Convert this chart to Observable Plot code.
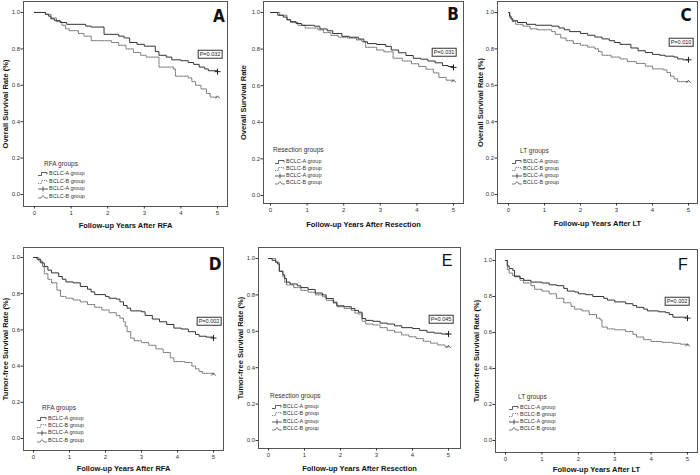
<!DOCTYPE html>
<html><head><meta charset="utf-8">
<script src="https://cdn.jsdelivr.net/npm/d3@7"></script>
<script src="https://cdn.jsdelivr.net/npm/@observablehq/plot@0.6"></script>
<style>
body{margin:0;background:#fff;}
#root{position:relative;width:700px;height:475px;overflow:hidden;font-family:"Liberation Sans",Arial,sans-serif;background:#fff;}
.panel{position:absolute;}
.panel svg{overflow:visible;}
g[aria-label="x-axis label"] text, g[aria-label="y-axis label"] text{font-size:7.5px;font-weight:bold;fill:#111;}
g[aria-label="x-axis tick label"] text, g[aria-label="y-axis tick label"] text{font-size:6px;fill:#333;}
.ov{position:absolute;white-space:nowrap;line-height:1;color:#222;transform:translateY(-50%);}
.pbox{border:1px solid #333;font-size:5.5px;padding:0.5px 1px;transform:translate(-50%,-50%);}
.lt{font-size:6.5px;color:#333;}
.lr{font-size:5.5px;color:#333;display:flex;align-items:center;}
.lr svg{margin-right:1px;}
.letter{position:absolute;transform:translate(-50%,-50%);line-height:1;color:#111;}
.letter.cond{font-family:"Liberation Sans Narrow","DejaVu Sans Condensed",sans-serif;font-weight:bold;font-size:17px;}
.letter.reg{font-family:"Liberation Sans",Arial,sans-serif;font-size:16px;}
</style>
</head><body><div id="root"></div>
<script>
// ---------- data ----------
const groupNames = ["BCLC-A group", "BCLC-B group"];
const xTicks = [0, 1, 2, 3, 4, 5];
const yTicks = [0, 0.2, 0.4, 0.6, 0.8, 1.0];
const panelLetters = ["A", "B", "C", "D", "E", "F"];
const pValues = ["P=0.032", "P=0.031", "P=0.010", "P=0.002", "P=0.045", "P=0.002"];
const xLabels = ["Follow-up Years After RFA", "Follow-up Years After Resection", "Follow-up Years After LT",
                 "Follow-up Years After RFA", "Follow-up Years After Resection", "Follow-up Years After LT"];
const yLabels = ["Overall Survival Rate (%)", "Overall Survival Rate", "Overall Survival Rate (%)",
                 "Tumor-free Survival Rate (%)", "Tumor-free Survival Rate (%)", "Tumor-free Survival Rate (%)"];
const legendTitles = ["RFA groups", "Resection groups", "LT groups", "RFA groups", "Resection groups", "LT groups"];

// [years, survival] step points
const osRFA_A = [[0,1],[0.3,0.99],[0.38,0.98],[0.45,0.965],[0.55,0.955],[0.7,0.945],[0.88,0.935],[1.4,0.925],[1.55,0.92],[1.9,0.88],[2.3,0.87],[2.45,0.86],[2.6,0.835],[2.8,0.825],[3.0,0.815],[3.3,0.785],[3.4,0.765],[3.6,0.755],[3.75,0.74],[4.0,0.735],[4.2,0.725],[4.35,0.715],[4.5,0.7],[4.65,0.69],[4.75,0.68],[5,0.675]];
const osRFA_B = [[0,1],[0.3,0.99],[0.45,0.97],[0.6,0.95],[0.75,0.93],[0.85,0.91],[0.95,0.9],[1.2,0.885],[1.35,0.87],[1.55,0.845],[2.1,0.835],[2.3,0.82],[2.5,0.8],[2.7,0.78],[2.9,0.765],[3.05,0.755],[3.4,0.7],[3.8,0.69],[3.85,0.65],[4.2,0.64],[4.3,0.62],[4.4,0.6],[4.55,0.58],[4.7,0.555],[4.8,0.535],[5,0.535]];
const osRes_A = [[0,1],[0.2,0.985],[0.35,0.975],[0.45,0.96],[0.55,0.95],[0.7,0.94],[0.85,0.93],[1.2,0.925],[1.35,0.91],[1.55,0.9],[1.7,0.885],[1.95,0.87],[2.15,0.865],[2.4,0.855],[2.55,0.84],[2.65,0.83],[2.9,0.825],[3.15,0.815],[3.3,0.795],[3.5,0.78],[3.7,0.765],[3.9,0.75],[4.1,0.745],[4.3,0.735],[4.5,0.725],[4.7,0.71],[4.85,0.705],[5,0.7]];
const osRes_B = [[0,1],[0.25,0.985],[0.45,0.96],[0.55,0.945],[0.75,0.93],[0.95,0.915],[1.3,0.905],[1.45,0.89],[1.65,0.875],[1.85,0.865],[2.1,0.86],[2.35,0.85],[2.5,0.84],[2.6,0.81],[2.9,0.795],[3.1,0.785],[3.35,0.75],[3.6,0.735],[3.85,0.72],[4.05,0.705],[4.25,0.69],[4.45,0.67],[4.6,0.645],[4.8,0.63],[5,0.625]];
const osLT_A = [[0,1],[0.03,0.98],[0.07,0.965],[0.12,0.955],[0.25,0.945],[0.5,0.935],[0.75,0.93],[1.2,0.925],[1.4,0.915],[1.55,0.905],[1.7,0.895],[2.0,0.885],[2.2,0.875],[2.4,0.865],[2.6,0.855],[2.8,0.845],[2.95,0.835],[3.1,0.825],[3.4,0.805],[3.6,0.79],[3.8,0.78],[4.0,0.77],[4.2,0.765],[4.35,0.76],[4.6,0.755],[4.7,0.745],[4.85,0.74],[5,0.74]];
const osLT_B = [[0,1],[0.04,0.97],[0.1,0.95],[0.2,0.935],[0.4,0.925],[0.6,0.91],[0.8,0.905],[1.2,0.895],[1.3,0.88],[1.45,0.86],[1.6,0.845],[1.8,0.83],[2.0,0.82],[2.2,0.81],[2.4,0.8],[2.5,0.785],[2.6,0.765],[2.85,0.755],[3.1,0.745],[3.3,0.73],[3.55,0.72],[3.8,0.705],[4.0,0.69],[4.3,0.685],[4.4,0.67],[4.5,0.65],[4.6,0.635],[4.7,0.62],[5,0.62]];
const tfRFA_A = [[0,1],[0.1,0.99],[0.2,0.97],[0.3,0.95],[0.4,0.93],[0.5,0.915],[0.7,0.895],[0.8,0.88],[0.9,0.865],[1.1,0.86],[1.3,0.84],[1.5,0.825],[1.6,0.81],[1.7,0.795],[2.0,0.785],[2.1,0.775],[2.3,0.77],[2.4,0.755],[2.5,0.735],[2.6,0.72],[2.7,0.705],[3.0,0.7],[3.1,0.68],[3.3,0.66],[3.5,0.645],[3.7,0.63],[3.9,0.61],[4.1,0.605],[4.3,0.59],[4.5,0.575],[4.6,0.565],[4.8,0.56],[5,0.555]];
const tfRFA_B = [[0,1],[0.15,0.98],[0.25,0.95],[0.3,0.91],[0.4,0.88],[0.5,0.86],[0.65,0.82],[0.75,0.785],[0.9,0.775],[1.1,0.765],[1.3,0.755],[1.5,0.74],[1.7,0.725],[1.9,0.71],[2.1,0.695],[2.3,0.68],[2.4,0.665],[2.5,0.645],[2.55,0.62],[2.6,0.59],[2.7,0.555],[2.8,0.54],[3.0,0.53],[3.2,0.515],[3.4,0.495],[3.6,0.475],[3.8,0.445],[3.9,0.425],[4.2,0.42],[4.4,0.4],[4.5,0.385],[4.6,0.37],[4.7,0.36],[5,0.355]];
const tfRes_A = [[0,1],[0.1,0.99],[0.2,0.98],[0.25,0.97],[0.3,0.93],[0.4,0.91],[0.45,0.89],[0.5,0.87],[0.6,0.86],[0.8,0.85],[0.9,0.84],[1.1,0.83],[1.3,0.81],[1.5,0.8],[1.6,0.78],[1.8,0.76],[1.9,0.74],[2.1,0.735],[2.3,0.725],[2.4,0.715],[2.5,0.705],[2.6,0.67],[2.7,0.66],[2.9,0.655],[3.1,0.645],[3.3,0.64],[3.5,0.63],[3.7,0.62],[4.0,0.615],[4.2,0.605],[4.4,0.595],[4.6,0.59],[4.8,0.585],[5,0.585]];
const tfRes_B = [[0,1],[0.2,0.98],[0.3,0.93],[0.4,0.9],[0.45,0.87],[0.5,0.855],[0.7,0.84],[0.9,0.825],[1.1,0.815],[1.3,0.8],[1.5,0.79],[1.6,0.77],[1.8,0.755],[1.9,0.735],[2.1,0.725],[2.3,0.715],[2.4,0.7],[2.5,0.695],[2.6,0.655],[2.7,0.64],[2.9,0.635],[3.1,0.62],[3.3,0.605],[3.5,0.595],[3.7,0.58],[3.9,0.57],[4.1,0.56],[4.3,0.545],[4.5,0.535],[4.7,0.525],[4.9,0.515],[5,0.515]];
const tfLT_A = [[0,1],[0.05,0.97],[0.1,0.955],[0.2,0.945],[0.25,0.91],[0.4,0.9],[0.5,0.89],[0.7,0.88],[1.0,0.875],[1.2,0.865],[1.4,0.86],[1.6,0.845],[1.7,0.83],[1.9,0.825],[2.0,0.815],[2.2,0.81],[2.4,0.8],[2.7,0.79],[2.8,0.78],[3.0,0.77],[3.3,0.76],[3.5,0.75],[3.6,0.74],[3.8,0.73],[3.9,0.72],[4.2,0.715],[4.4,0.71],[4.5,0.7],[4.6,0.685],[5,0.68]];
const tfLT_B = [[0,1],[0.05,0.95],[0.1,0.93],[0.2,0.915],[0.4,0.89],[0.5,0.875],[0.7,0.86],[0.8,0.84],[1.0,0.83],[1.2,0.815],[1.4,0.79],[1.6,0.765],[1.8,0.745],[1.9,0.73],[2.1,0.72],[2.3,0.7],[2.5,0.68],[2.6,0.67],[2.65,0.63],[2.8,0.62],[3.0,0.615],[3.3,0.605],[3.5,0.59],[3.6,0.575],[3.8,0.56],[4.0,0.55],[4.3,0.545],[4.6,0.54],[4.8,0.535],[5,0.53]];

const seriesA = [osRFA_A, osRes_A, osLT_A, tfRFA_A, tfRes_A, tfLT_A];
const seriesB = [osRFA_B, osRes_B, osLT_B, tfRFA_B, tfRes_B, tfLT_B];

// ---------- layout (pixels) ----------
const layout = [
  {frame:[23,1,227,206], x0:34, x5:217, y1:12, y0:194, xlo:21, ylo:21, p:[210,54], L:[219,16], leg:{tx:44, ty:164, gx:38, rows:[174,182,189,197]}},
  {frame:[263,1,463,203], x0:270, x5:453, y1:12, y0:195, xlo:23, ylo:23, p:[444,52], L:[453,14], leg:{tx:273, ty:150, gx:275, rows:[162,169,176,183]}},
  {frame:[497,1,697,203], x0:508, x5:688, y1:12, y0:194, xlo:22, ylo:20, p:[681,42], L:[686,15], leg:{tx:520, ty:151, gx:512, rows:[162,169,176,183]}},
  {frame:[23,247,223,450], x0:33, x5:213, y1:257, y0:438, xlo:20, ylo:21, p:[209,321], L:[215,264], leg:{tx:42, ty:408, gx:37, rows:[419,426,433,441]}},
  {frame:[258,247,460,448], x0:268, x5:448, y1:258, y0:440, xlo:22, ylo:21, p:[441,319], L:[447,261], leg:{tx:270, ty:396, gx:272, rows:[407,414,422,429]}},
  {frame:[495,249,697,452], x0:505, x5:687, y1:260, y0:440, xlo:19, ylo:22, p:[677,301], L:[683,265], leg:{tx:518, ty:397, gx:509, rows:[408,415,422,429]}}
];

const root = document.getElementById("root");

const wedge = {
  draw(context, size) {
    const r = Math.sqrt(size / Math.PI);
    context.moveTo(-r, r * 0.6);
    context.lineTo(0, -r * 0.6);
    context.lineTo(r, r * 0.6);
  }
};

const glyphs = [
  '<path d="M0,4.5H3.5V1.5H9V3.5" stroke="#333" fill="none" stroke-width="0.8"/>',
  '<path d="M0,4.5H3.5V1.5H9V3.5" stroke="#666" fill="none" stroke-width="0.8" stroke-dasharray="1,0.8"/>',
  '<path d="M0,3H10M5,0.5V5.5" stroke="#333" fill="none" stroke-width="0.8"/>',
  '<path d="M0,4H3L5,1.5L7,4H10" stroke="#555" fill="none" stroke-width="0.8"/>'
];

layout.forEach((lay, i) => {
  const mL = 26, mR = 3, mT = 1, mB = 32;
  const [L, T, R, B] = lay.frame;
  const kx = (lay.x5 - lay.x0) / 5, ky = (lay.y0 - lay.y1);
  const xd = [-(lay.x0 - L) / kx, 5 + (R - lay.x5) / kx];
  const yd = [-(B - lay.y0) / ky, 1 + (lay.y1 - T) / ky];
  const a = seriesA[i], b = seriesB[i];
  const chart = Plot.plot({
    width: R - L + mL + mR,
    height: B - T + mT + mB,
    marginLeft: mL, marginRight: mR, marginTop: mT, marginBottom: mB,
    style: {fontFamily: "Liberation Sans, Arial, sans-serif", background: "transparent", color: "#333"},
    x: {domain: xd},
    y: {domain: yd},
    marks: [
      Plot.frame({stroke: "#555", strokeWidth: 1}),
      Plot.axisX({ticks: xTicks, tickSize: 2.5, tickPadding: 1.5, tickFormat: d => String(d),
                  label: xLabels[i], labelAnchor: "center", labelOffset: lay.xlo, labelArrow: "none"}),
      Plot.axisY({ticks: yTicks, tickSize: 2.5, tickPadding: 1, tickFormat: d3.format(".1f"),
                  label: yLabels[i], labelAnchor: "center", labelOffset: lay.ylo, labelArrow: "none"}),
      Plot.line(b, {x: d => d[0], y: d => d[1], curve: "step-after", stroke: "#666", strokeWidth: 0.9, strokeDasharray: "1.6,1"}),
      Plot.line(a, {x: d => d[0], y: d => d[1], curve: "step-after", stroke: "#333", strokeWidth: 1}),
      Plot.dot([a[a.length - 1]], {x: d => d[0], y: d => d[1], symbol: "plus", r: 2.1, stroke: "#222", strokeWidth: 1}),
      Plot.dot([b[b.length - 1]], {x: d => d[0], y: d => d[1], symbol: wedge, r: 2.2, stroke: "#444", fill: "none", strokeWidth: 0.9})
    ]
  });
  const wrap = document.createElement("div");
  wrap.className = "panel";
  wrap.style.left = (L - mL) + "px";
  wrap.style.top = (T - mT) + "px";
  wrap.appendChild(chart);
  root.appendChild(wrap);

  // p-value box
  const pb = document.createElement("div");
  pb.className = "ov pbox";
  pb.style.left = lay.p[0] + "px";
  pb.style.top = lay.p[1] + "px";
  pb.textContent = pValues[i];
  root.appendChild(pb);

  // panel letter
  const lt = document.createElement("div");
  lt.className = "letter " + (i < 4 ? "cond" : "reg");
  lt.style.left = lay.L[0] + "px";
  lt.style.top = lay.L[1] + "px";
  lt.textContent = panelLetters[i];
  root.appendChild(lt);

  // legend
  const t = document.createElement("div");
  t.className = "ov lt";
  t.style.left = lay.leg.tx + "px";
  t.style.top = lay.leg.ty + "px";
  t.textContent = legendTitles[i];
  root.appendChild(t);
  const labels = [groupNames[0], groupNames[1], groupNames[0], groupNames[1]];
  lay.leg.rows.forEach((ry, k) => {
    const r = document.createElement("div");
    r.className = "ov lr";
    r.style.left = lay.leg.gx + "px";
    r.style.top = ry + "px";
    r.innerHTML = '<svg width="10" height="6" viewBox="0 0 10 6">' + glyphs[k] + '</svg>';
    const s = document.createElement("span");
    s.textContent = labels[k];
    r.appendChild(s);
    root.appendChild(r);
  });
});
</script>
</body></html>
